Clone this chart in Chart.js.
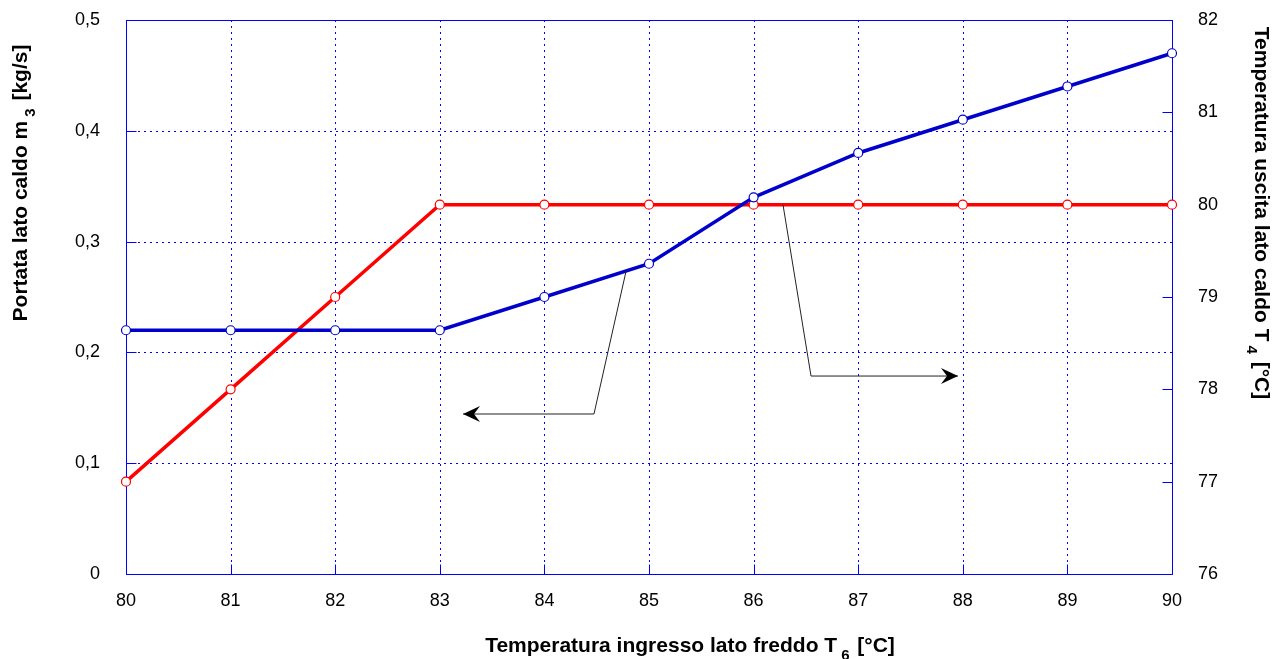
<!DOCTYPE html>
<html>
<head>
<meta charset="utf-8">
<script src="https://cdn.jsdelivr.net/npm/chart.js@4/dist/chart.umd.min.js"></script>
<style>
html,body{margin:0;padding:0;background:#fff;}
#wrap{width:1274px;height:659px;position:relative;}
</style>
</head>
<body>
<div id="wrap"><canvas id="c"></canvas></div>
<script>
// ---- data ----
const temperaturaIngresso = [80, 81, 82, 83, 84, 85, 86, 87, 88, 89, 90];
const portataLatoCaldo = [0.22, 0.22, 0.22, 0.22, 0.25, 0.28, 0.34, 0.38, 0.41, 0.44, 0.47];
const temperaturaUscita = [77, 78, 79, 80, 80, 80, 80, 80, 80, 80, 80];
const leftTicks = [0, 0.1, 0.2, 0.3, 0.4, 0.5];
const rightTicks = [76, 77, 78, 79, 80, 81, 82];
// annotation arrows (data units): [x, y] ; first uses left axis, second right axis
const arrowPortata = [[84.78, 0.273], [84.474, 0.1444], [83.222, 0.1444]];
const arrowTemperatura = [[86.281, 80.0], [86.549, 78.144], [87.954, 78.144]];

const BLUE = '#0000CC';
const GRID = '#0000FF';
const FONT = '"Liberation Sans", Arial, sans-serif';

const pts = (xs, ys) => xs.map((x, i) => ({x: x, y: ys[i]}));

function drawRich(ctx, parts, size) {
  let w = 0;
  parts.forEach(p => {
    ctx.font = 'bold ' + (p.sub ? Math.round(size * 0.7) : size) + 'px ' + FONT;
    w += ctx.measureText(p.t).width + (p.gap || 0);
  });
  let x = -w / 2;
  parts.forEach(p => {
    ctx.font = 'bold ' + (p.sub ? Math.round(size * 0.7) : size) + 'px ' + FONT;
    x += (p.gapBefore || 0);
    ctx.fillText(p.t, x, p.sub ? size * 0.38 : 0);
    x += ctx.measureText(p.t).width + (p.gap || 0) - (p.gapBefore || 0);
  });
}

const decorPlugin = {
  id: 'decor',
  beforeDatasetsDraw(chart) {
    const ctx = chart.ctx, a = chart.chartArea;
    const sx = chart.scales.x, sy = chart.scales.y, sy2 = chart.scales.y2;
    ctx.save();
    // dotted grid
    ctx.strokeStyle = GRID;
    ctx.lineWidth = 1;
    ctx.setLineDash([2, 4]);
    ctx.beginPath();
    sx.ticks.forEach(t => { const p = Math.round(sx.getPixelForValue(t.value)) + 0.5; ctx.moveTo(p, a.bottom); ctx.lineTo(p, a.top); });
    sy.ticks.forEach(t => { const p = Math.round(sy.getPixelForValue(t.value)) + 0.5; ctx.moveTo(a.left, p); ctx.lineTo(a.right, p); });
    ctx.stroke();
    ctx.setLineDash([]);
    // frame + inward ticks
    ctx.beginPath();
    const L = Math.round(a.left) + 0.5, R = Math.round(a.right) + 0.5, T = Math.round(a.top) + 0.5, B = Math.round(a.bottom) + 0.5;
    ctx.moveTo(L, T); ctx.lineTo(R, T); ctx.lineTo(R, B); ctx.lineTo(L, B); ctx.closePath();
    sx.ticks.forEach(t => { const p = Math.round(sx.getPixelForValue(t.value)) + 0.5; ctx.moveTo(p, B); ctx.lineTo(p, B - 10); });
    sy.ticks.forEach(t => { const p = Math.round(sy.getPixelForValue(t.value)) + 0.5; ctx.moveTo(L, p); ctx.lineTo(L + 10, p); });
    sy2.ticks.forEach(t => { const p = Math.round(sy2.getPixelForValue(t.value)) + 0.5; ctx.moveTo(R, p); ctx.lineTo(R - 10, p); });
    ctx.stroke();
    ctx.restore();
  },
  afterDraw(chart) {
    const ctx = chart.ctx;
    const sx = chart.scales.x, sy = chart.scales.y, sy2 = chart.scales.y2;
    ctx.save();
    const drawArrow = (pathArr, ys) => {
      const p = pathArr.map(v => [sx.getPixelForValue(v[0]), ys.getPixelForValue(v[1])]);
      ctx.strokeStyle = '#222';
      ctx.lineWidth = 1;
      ctx.beginPath();
      ctx.moveTo(p[0][0], p[0][1]);
      for (let i = 1; i < p.length; i++) ctx.lineTo(p[i][0], p[i][1]);
      ctx.stroke();
      const e = p[p.length - 1], s = p[p.length - 2];
      const ang = Math.atan2(e[1] - s[1], e[0] - s[0]);
      ctx.translate(e[0], e[1]);
      ctx.rotate(ang);
      ctx.fillStyle = '#000';
      ctx.beginPath();
      ctx.moveTo(0, 0);
      ctx.lineTo(-17, -8);
      ctx.lineTo(-11, 0);
      ctx.lineTo(-17, 8);
      ctx.closePath();
      ctx.fill();
      ctx.setTransform(1, 0, 0, 1, 0, 0);
    };
    drawArrow(arrowPortata, sy);
    drawArrow(arrowTemperatura, sy2);

    ctx.fillStyle = '#000';
    ctx.textBaseline = 'alphabetic';
    ctx.textAlign = 'left';
    const size = 21;
    ctx.save();
    ctx.translate(690, 652);
    drawRich(ctx, [{t: 'Temperatura ingresso lato freddo T'}, {t: '6', sub: true, gap: 6, gapBefore: 4}, {t: ' [°C]'}], size);
    ctx.restore();
    ctx.save();
    ctx.translate(27, 183);
    ctx.rotate(-Math.PI / 2);
    drawRich(ctx, [{t: 'Portata lato caldo m'}, {t: '3', sub: true, gap: 6, gapBefore: 4}, {t: ' [kg/s]'}], size);
    ctx.restore();
    ctx.save();
    ctx.translate(1255, 213);
    ctx.rotate(Math.PI / 2);
    drawRich(ctx, [{t: 'Temperatura uscita lato caldo T'}, {t: '4', sub: true, gap: 6, gapBefore: 4}, {t: ' [°C]'}], size);
    ctx.restore();
    ctx.restore();
  }
};

function zeroPad(s) { s.paddingTop = 0; s.paddingBottom = 0; s.paddingLeft = 0; s.paddingRight = 0; }

new Chart(document.getElementById('c'), {
  type: 'line',
  data: {
    datasets: [
      {
        label: 'Portata lato caldo',
        data: pts(temperaturaIngresso, portataLatoCaldo),
        yAxisID: 'y',
        borderColor: BLUE,
        backgroundColor: '#fff',
        borderWidth: 3.5,
        pointRadius: 4.5,
        pointBorderWidth: 1.2,
        pointBorderColor: BLUE,
        pointBackgroundColor: '#fff',
        tension: 0
      },
      {
        label: 'Temperatura uscita lato caldo',
        data: pts(temperaturaIngresso, temperaturaUscita),
        yAxisID: 'y2',
        borderColor: '#FF0000',
        backgroundColor: '#fff',
        borderWidth: 3.5,
        pointRadius: 4.5,
        pointBorderWidth: 1.2,
        pointBorderColor: '#FF0000',
        pointBackgroundColor: '#fff',
        tension: 0
      }
    ]
  },
  options: {
    responsive: true,
    maintainAspectRatio: false,
    animation: false,
    clip: false,
    layout: {padding: {top: 20, left: 0, right: 0, bottom: 0}},
    plugins: {legend: {display: false}, tooltip: {enabled: false}},
    scales: {
      x: {
        type: 'linear', min: 80, max: 90,
        afterFit(s) { s.height = 85; zeroPad(s); },
        ticks: {stepSize: 1, color: '#000', font: {family: FONT, size: 18}, padding: 16},
        grid: {display: false, drawTicks: false},
        border: {display: false}
      },
      y: {
        type: 'linear', position: 'left', min: 0, max: 0.5,
        afterFit(s) { s.width = 126; zeroPad(s); },
        afterBuildTicks(s) { s.ticks = leftTicks.map(v => ({value: v})); },
        ticks: {color: '#000', font: {family: FONT, size: 18}, padding: 26,
          callback: v => v === 0 ? '0' : v.toFixed(1).replace('.', ',')},
        grid: {display: false, drawTicks: false},
        border: {display: false}
      },
      y2: {
        type: 'linear', position: 'right', min: 76, max: 82,
        afterFit(s) { s.width = 102; zeroPad(s); },
        afterBuildTicks(s) { s.ticks = rightTicks.map(v => ({value: v})); },
        ticks: {color: '#000', font: {family: FONT, size: 18}, padding: 26},
        grid: {display: false, drawTicks: false},
        border: {display: false}
      }
    }
  },
  plugins: [decorPlugin]
});
</script>
</body>
</html>
